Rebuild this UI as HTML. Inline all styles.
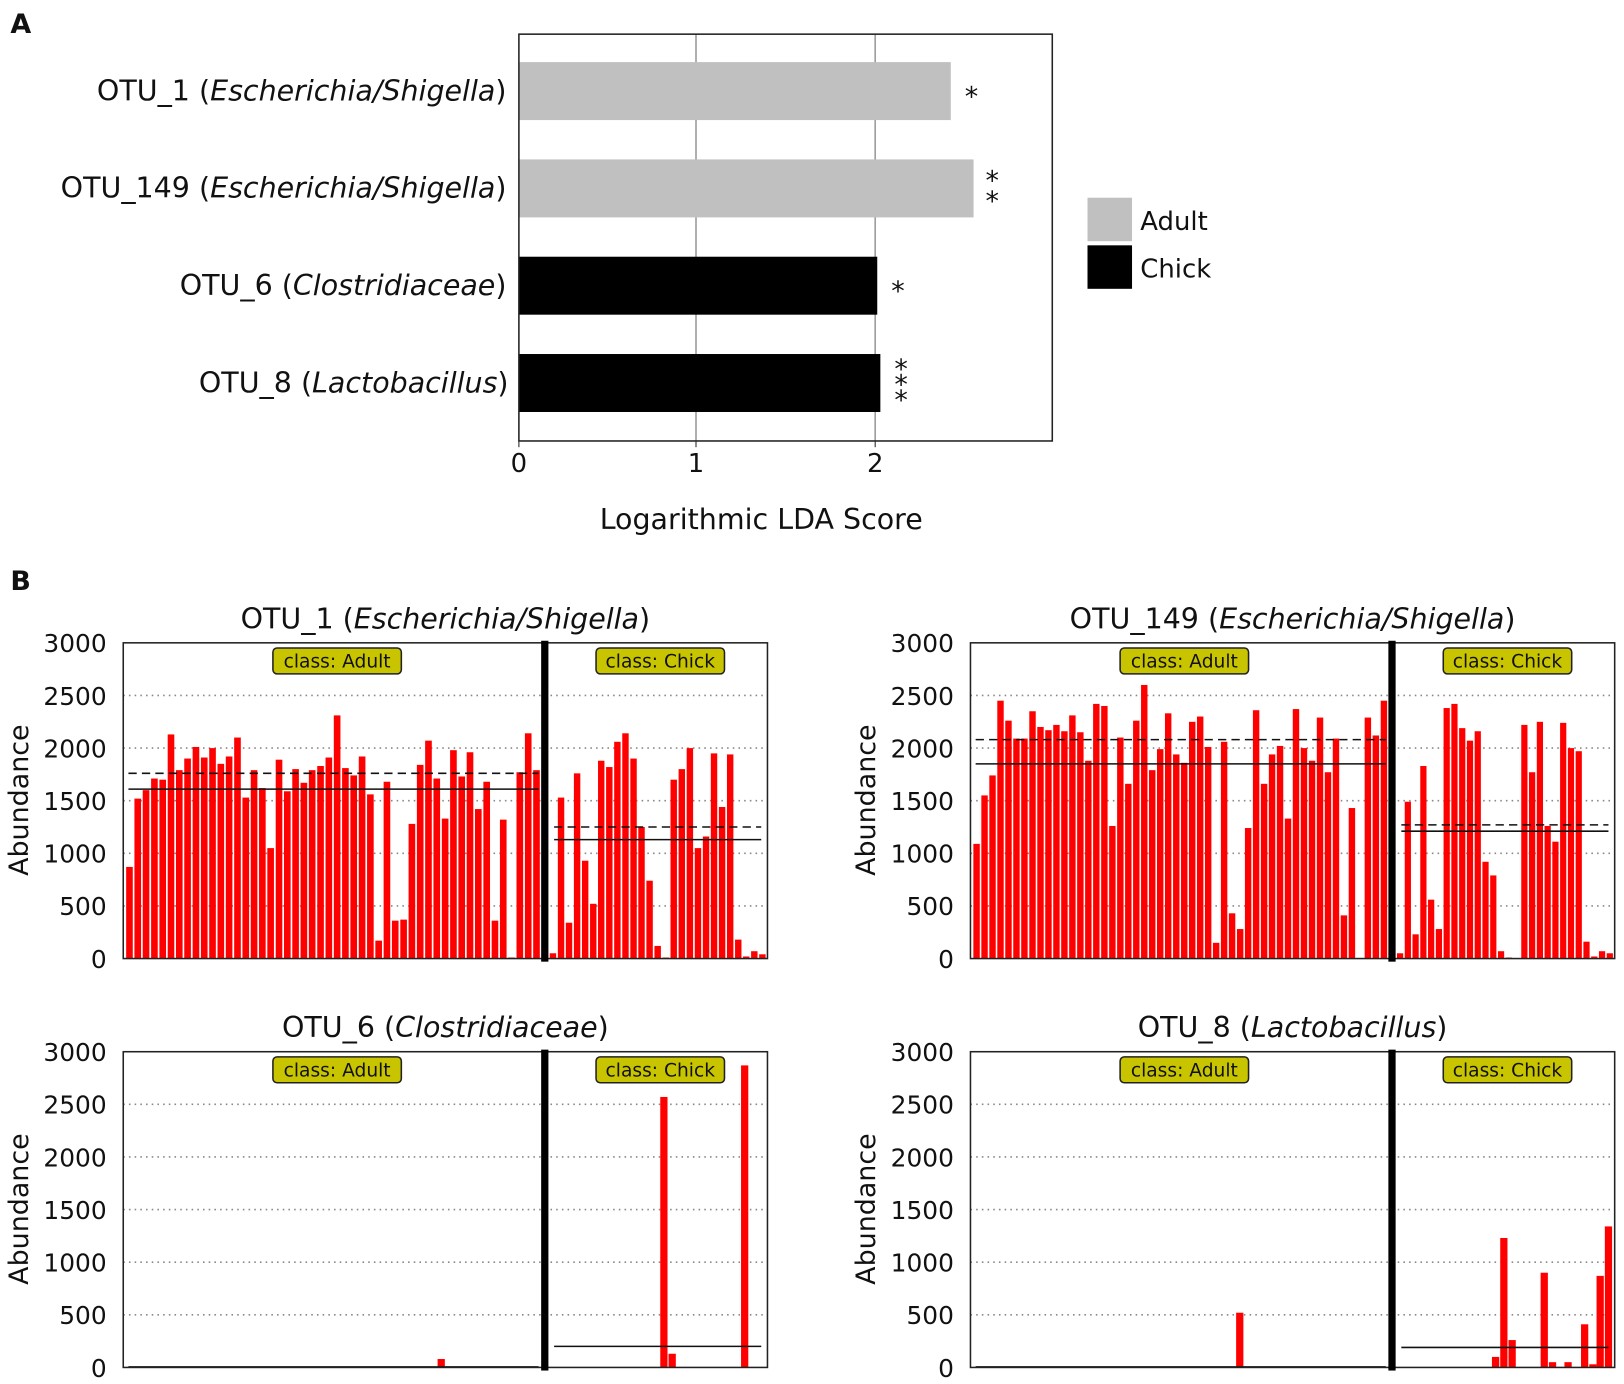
<!DOCTYPE html>
<html><head><meta charset="utf-8"><style>
html,body{margin:0;padding:0;background:#fff}
svg{display:block}
text{font-family:"DejaVu Sans","Liberation Sans",sans-serif;fill:#111}
</style></head><body>
<svg id="s" xmlns="http://www.w3.org/2000/svg" width="1624" height="1384" viewBox="0 0 1568 1337" preserveAspectRatio="none">
<rect width="1568" height="1337" fill="#fff"/>
<text x="10" y="32" font-size="26" font-weight="bold" font-family="Liberation Sans">A</text>
<text x="10" y="570" font-size="26" font-weight="bold" font-family="Liberation Sans">B</text>
<line x1="672" y1="33" x2="672" y2="426" stroke="#999" stroke-width="1.5"/>
<line x1="845" y1="33" x2="845" y2="426" stroke="#999" stroke-width="1.5"/>
<rect x="501" y="60" width="417" height="56" fill="#c0c0c0"/>
<rect x="501" y="154" width="439" height="56" fill="#c0c0c0"/>
<rect x="501" y="248" width="346" height="56" fill="#000"/>
<rect x="501" y="342" width="349" height="56" fill="#000"/>
<rect x="501" y="33" width="515" height="393" fill="none" stroke="#222" stroke-width="1.5"/>
<line x1="501" y1="426" x2="501" y2="432" stroke="#222"/><line x1="672" y1="426" x2="672" y2="432" stroke="#222"/><line x1="845" y1="426" x2="845" y2="432" stroke="#222"/>
<g font-size="25" text-anchor="middle"><text x="501" y="456">0</text><text x="672" y="456">1</text><text x="845" y="456">2</text></g>
<text x="735" y="511" font-size="27.5" text-anchor="middle">Logarithmic LDA Score</text>
<g font-size="27.5" text-anchor="end">
<text x="489" y="97">OTU_1 (<tspan font-style="italic">Escherichia/Shigella</tspan>)</text>
<text x="489" y="191">OTU_149 (<tspan font-style="italic">Escherichia/Shigella</tspan>)</text>
<text x="489" y="285">OTU_6 (<tspan font-style="italic">Clostridiaceae</tspan>)</text>
<text x="491" y="379">OTU_8 (<tspan font-style="italic">Lactobacillus</tspan>)</text>
</g>
<g font-size="26" text-anchor="middle">
<text x="938" y="102">*</text>
<text x="958" y="183">*</text><text x="958" y="203">*</text>
<text x="867" y="290">*</text>
<text x="870" y="365">*</text><text x="870" y="380">*</text><text x="870" y="395">*</text>
</g>
<rect x="1050" y="191" width="43" height="42" fill="#c0c0c0"/>
<rect x="1050" y="237" width="43" height="42" fill="#000"/>
<text x="1101" y="222" font-size="25">Adult</text>
<text x="1101" y="268" font-size="25">Chick</text>
<g id="B"></g>
</svg>
<script>
var g=document.getElementById('B'),h='';
function P(o){
 var L=o.x0,R=o.x1,T=o.y0,Bt=o.y0+305,sep=o.sep,sc=305/3000;
 function Y(v){return Bt-v*sc}
 h+='<text x="'+((L+R)/2)+'" y="'+(T-14)+'" font-size="27.5" text-anchor="middle">'+o.t+'</text>';
 for(var v=500;v<3000;v+=500)h+='<line x1="'+L+'" x2="'+R+'" y1="'+Y(v)+'" y2="'+Y(v)+'" stroke="#888" stroke-width="1.5" stroke-dasharray="1.5,4"/>';
 for(var v=0;v<=3000;v+=500)h+='<text x="'+(L-16)+'" y="'+(Y(v)+9)+'" font-size="24" text-anchor="end">'+v+'</text>';
 h+='<text transform="translate('+(L-92)+','+(T+152)+') rotate(-90)" font-size="26" text-anchor="middle">Abundance</text>';
 function bars(a,x0,x1){var n=a.length,p=(x1-x0)/n;for(var i=0;i<n;i++){var v=a[i];if(v<=0)continue;h+='<rect x="'+(x0+i*p+p*0.1).toFixed(1)+'" y="'+Y(v).toFixed(1)+'" width="'+(p*0.8).toFixed(1)+'" height="'+(v*sc).toFixed(1)+'" fill="#ff0000"/>';}}
 if(o.A)bars(o.A,L+2,sep-4);
 if(o.C)bars(o.C,sep+4,R-1);
 if(o.extra)o.extra.forEach(function(b){h+='<rect x="'+(b[0]-3.5)+'" y="'+Y(b[1])+'" width="7" height="'+(b[1]*sc)+'" fill="#ff0000"/>'});
 function ln(x0,x1,v,d){h+='<line x1="'+x0+'" x2="'+x1+'" y1="'+Y(v)+'" y2="'+Y(v)+'" stroke="#111" stroke-width="1.5"'+(d?' stroke-dasharray="8,5"':'')+'/>'}
 ln(L+5,sep-6,o.am,0);ln(sep+9,R-6,o.cm,0);
 if(o.ad)ln(L+5,sep-6,o.ad,1);if(o.cd)ln(sep+9,R-6,o.cd,1);
 h+='<rect x="'+L+'" y="'+T+'" width="'+(R-L)+'" height="305" fill="none" stroke="#222" stroke-width="1.5"/>';
 h+='<rect x="'+(sep-3.5)+'" y="'+(T-2)+'" width="7" height="310" fill="#000"/>';
 var ca=(L+sep)/2+3,cc=(sep+R)/2+4;
 [[ca,'class: Adult'],[cc,'class: Chick']].forEach(function(c){h+='<rect x="'+(c[0]-62)+'" y="'+(T+5)+'" width="124" height="25" rx="4" fill="#c8c400" stroke="#222" stroke-width="1.5"/><text x="'+c[0]+'" y="'+(T+24)+'" font-size="18" text-anchor="middle">'+c[1]+'</text>'});
}
P({x0:119,x1:741,y0:621,sep:526,t:'OTU_1 (<tspan font-style="italic">Escherichia/Shigella</tspan>)',
A:[870,1520,1600,1710,1700,2130,1790,1900,2010,1910,2000,1850,1920,2100,1530,1790,1620,1050,1890,1590,1800,1670,1790,1830,1910,2310,1810,1740,1920,1560,170,1680,360,370,1280,1840,2070,1710,1330,1980,1730,1960,1420,1680,360,1320,10,1770,2140,1790],
C:[50,1530,340,1760,930,520,1880,1820,2060,2140,1900,1250,740,120,10,1700,1800,2000,1050,1160,1950,1440,1940,180,20,70,40],
am:1610,ad:1760,cm:1130,cd:1250});
P({x0:937,x1:1559,y0:621,sep:1344,t:'OTU_149 (<tspan font-style="italic">Escherichia/Shigella</tspan>)',
A:[1090,1550,1740,2450,2260,2090,2090,2350,2200,2170,2220,2160,2310,2150,1880,2420,2400,1260,2100,1660,2260,2600,1790,1990,2330,1940,1860,2250,2300,2010,150,2060,430,280,1240,2360,1660,1940,2020,1330,2370,2000,1880,2290,1770,2090,410,1430,0,2290,2120,2450],
C:[50,1490,230,1830,560,280,2380,2420,2190,2070,2160,920,790,70,10,0,2220,1770,2250,1260,1110,2240,2000,1970,160,20,70,50],
am:1850,ad:2080,cm:1210,cd:1270});
P({x0:119,x1:741,y0:1016,sep:526,t:'OTU_6 (<tspan font-style="italic">Clostridiaceae</tspan>)',
extra:[[426,80],[641,2570],[649,130],[719,2870]],am:5,cm:200});
P({x0:937,x1:1559,y0:1016,sep:1344,t:'OTU_8 (<tspan font-style="italic">Lactobacillus</tspan>)',
extra:[[1197,520],[1444,100],[1452,1230],[1460,260],[1491,900],[1499,50],[1514,50],[1530,410],[1538,30],[1545,870],[1553,1340]],am:5,cm:190});
g.innerHTML=h;
</script>
</body></html>
